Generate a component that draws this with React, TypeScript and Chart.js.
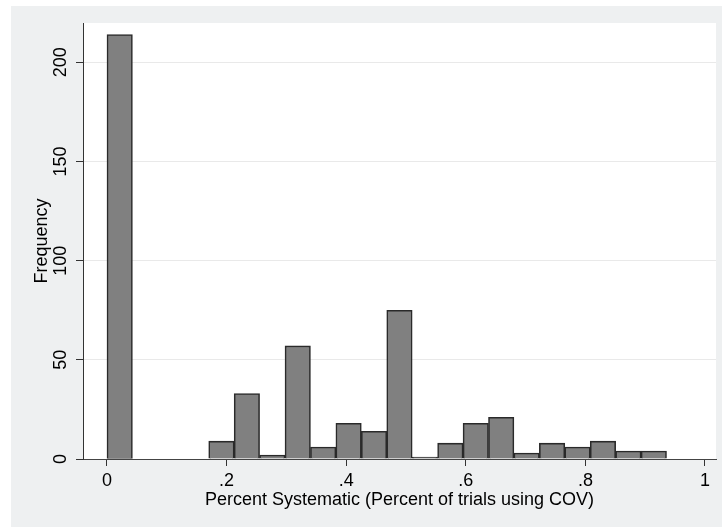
import { useEffect, useRef } from 'react';
import { Chart, registerables } from 'chart.js';

Chart.register(...registerables);

// Histogram bins (lower edge = index * binWidth), counts
const binWidth = 0.04253;
const binCounts: (number | null)[] = [214, null, null, null, 9, 33, 2, 57, 6, 18, 14, 75, 1, 8, 18, 21, 3, 8, 6, 9, 4, 4];

const xTickValues = [0, 0.2, 0.4, 0.6, 0.8, 1];
const xTickLabels = ['0', '.2', '.4', '.6', '.8', '1'];
const yTickValues = [0, 50, 100, 150, 200];
const yTickLabels = ['0', '50', '100', '150', '200'];

const xTitle = 'Percent Systematic (Percent of trials using COV)';
const yTitle = 'Frequency';

const FONT = "'Liberation Sans', Arial, Helvetica, sans-serif";

const bgPlugin = {
  id: 'stataBg',
  beforeDraw(chart: any) {
    const { ctx, width, height, chartArea } = chart;
    ctx.save();
    ctx.fillStyle = '#ffffff';
    ctx.fillRect(0, 0, width, height);
    ctx.fillStyle = '#eef0f1';
    ctx.fillRect(11, 6, width - 11, height - 6);
    ctx.fillStyle = '#ffffff';
    ctx.fillRect(chartArea.left, chartArea.top, chartArea.right - chartArea.left, chartArea.bottom - chartArea.top);
    ctx.restore();
  },
};

export default function App() {
  const ref = useRef<HTMLCanvasElement | null>(null);

  useEffect(() => {
    document.body.style.margin = '0';
    const canvas = ref.current;
    if (!canvas) return;
    const data = binCounts.map((c, i) => ({ x: (i + 0.5) * binWidth, y: c }));
    const chart = new Chart(canvas, {
      type: 'bar',
      data: {
        datasets: [
          {
            data: data as any,
            backgroundColor: '#808080',
            borderColor: '#2a2a2a',
            borderWidth: 1.6,
            barPercentage: 1,
            categoryPercentage: 1,
          },
        ],
      },
      options: {
        responsive: false,
        animation: false,
        devicePixelRatio: 1,
        layout: { padding: { left: 11, top: 23, right: 6, bottom: 0 } },
        plugins: { legend: { display: false }, tooltip: { enabled: false } },
        scales: {
          x: {
            type: 'linear',
            min: -0.0401,
            max: 1.0184,
            offset: false,
            afterBuildTicks: (axis: any) => {
              axis.ticks = xTickValues.map((v) => ({ value: v }));
            },
            afterFit: (s: any) => {
              s.height = 68;
            },
            ticks: {
              autoSkip: false,
              maxRotation: 0,
              minRotation: 0,
              padding: 4,
              color: '#000',
              font: { family: FONT, size: 18 },
              callback: (_v: any, i: number) => xTickLabels[i],
            },
            grid: {
              offset: false,
              drawOnChartArea: false,
              drawTicks: true,
              tickLength: 7,
              tickColor: '#333',
              tickWidth: 1,
            },
            border: { display: true, color: '#444', width: 1 },
            title: {
              display: true,
              text: xTitle,
              color: '#000',
              font: { family: FONT, size: 18 },
              padding: { top: 0, bottom: 16 },
            },
          },
          y: {
            type: 'linear',
            min: 0,
            max: 219.8,
            afterBuildTicks: (axis: any) => {
              axis.ticks = yTickValues.map((v) => ({ value: v }));
            },
            afterFit: (s: any) => {
              s.width = 72;
            },
            ticks: {
              autoSkip: false,
              minRotation: 90,
              maxRotation: 90,
              crossAlign: 'center',
              padding: 0,
              color: '#000',
              font: { family: FONT, size: 18 },
              callback: (_v: any, i: number) => yTickLabels[i],
            },
            grid: {
              color: (ctx: any) => (ctx.tick && ctx.tick.value === 0 ? 'rgba(0,0,0,0)' : '#e9e9e9'),
              lineWidth: 1,
              drawTicks: true,
              tickLength: 7,
              tickColor: '#333',
              tickWidth: 1,
            },
            border: { display: true, color: '#333', width: 1 },
            title: {
              display: true,
              text: yTitle,
              color: '#000',
              font: { family: FONT, size: 18 },
              padding: { top: 20, bottom: 0 },
            },
          },
        },
      },
      plugins: [bgPlugin],
    });
    return () => chart.destroy();
  }, []);

  return <canvas ref={ref} width={722} height={527} style={{ display: 'block' }} />;
}
